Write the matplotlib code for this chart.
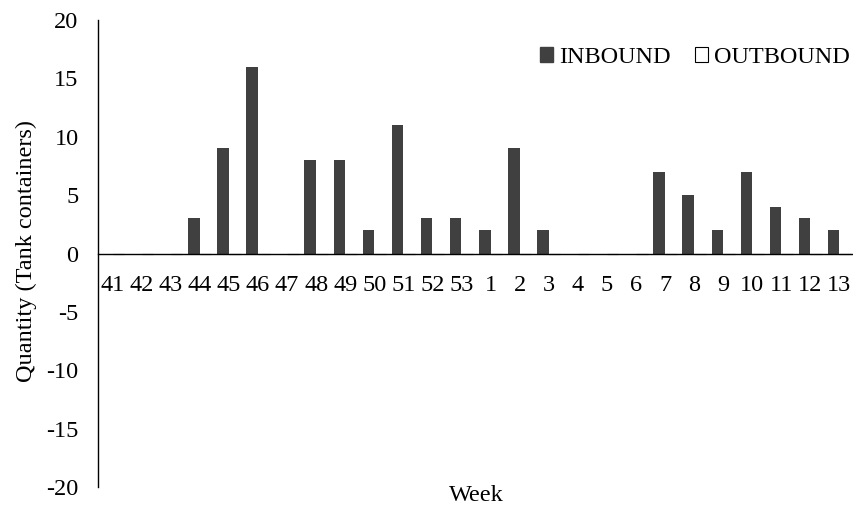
import matplotlib
matplotlib.use("Agg")
import matplotlib.pyplot as plt
from matplotlib.patches import Patch
import numpy as np

WEEKS = ["41", "42", "43", "44", "45", "46", "47", "48", "49", "50", "51", "52", "53",
         "1", "2", "3", "4", "5", "6", "7", "8", "9", "10", "11", "12", "13"]
INBOUND = [0, 0, 0, 3, 9, 16, 0, 8, 8, 2, 11, 3, 3,
           2, 9, 2, 0, 0, 0, 7, 5, 2, 7, 4, 3, 2]
OUTBOUND = [0] * len(WEEKS)
Y_TICKS = [-20, -15, -10, -5, 0, 5, 10, 15, 20]

BAR_COLOR = "#404040"

plt.rcParams.update({
    "font.family": ["Liberation Serif", "DejaVu Serif"],
    "font.size": 17.5,
})

fig = plt.figure(figsize=(8.54, 5.09), dpi=100)
ax = fig.add_axes([0.1148, 0.0432, 0.8852, 0.9175])

x = np.arange(len(WEEKS))
width = 0.4
ax.bar(x - width / 2, INBOUND, width, color=BAR_COLOR, label="INBOUND")
ax.bar(x + width / 2, OUTBOUND, width, color="white", edgecolor="black", linewidth=0.8, label="OUTBOUND")

ax.set_xlim(-0.5, len(WEEKS) - 0.5)
ax.set_ylim(-20, 20)
ax.set_yticks(Y_TICKS)
ax.set_yticklabels([str(v) for v in Y_TICKS])
ax.set_xticks(x)
ax.set_xticklabels(WEEKS)

for side in ("top", "right"):
    ax.spines[side].set_visible(False)
ax.spines["bottom"].set_position(("data", 0))
ax.spines["bottom"].set_zorder(3)
ax.spines["left"].set_linewidth(1.0)
ax.spines["bottom"].set_linewidth(1.0)

ax.tick_params(axis="y", length=0, pad=14)
ax.tick_params(axis="x", length=0, pad=15.5)

ax.set_ylabel("Quantity (Tank containers)")
ax.yaxis.set_label_coords(-0.081, 0.505)
ax.set_xlabel("Week")
ax.xaxis.set_label_coords(0.5, 0.004)

handles = [
    Patch(facecolor=BAR_COLOR, edgecolor=BAR_COLOR, label="INBOUND"),
    Patch(facecolor="white", edgecolor="black", linewidth=0.8, label="OUTBOUND"),
]
ax.legend(handles=handles, loc="upper left", bbox_to_anchor=(0.5847, 0.943), ncol=2,
          frameon=False, handlelength=0.54, handleheight=0.58, handletextpad=0.25,
          columnspacing=1.0, borderaxespad=0, borderpad=0)

fig.savefig("out.png", dpi=100)
